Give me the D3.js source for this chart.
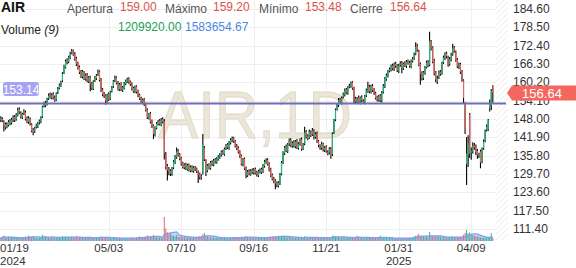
<!DOCTYPE html>
<html>
<head>
<meta charset="utf-8">
<script src="https://cdn.jsdelivr.net/npm/d3@7"></script>
<style>
  html, body { margin: 0; padding: 0; background: #fff; }
  svg { display: block; font-family: Arial, "Liberation Sans", sans-serif; }
</style>
</head>
<body>
<svg id="chart" width="576" height="268"></svg>
<script>
// daily bars, AIR 1D
const opens = [
  147.6, 148.0, 147.2, 146.3, 145.5, 146.0, 147.4, 146.8, 147.6, 148.8,
  147.9, 149.2, 151.3, 150.0, 148.5, 149.9, 150.2, 148.4, 147.0, 148.0,
  146.2, 144.5, 143.8, 145.3, 145.5, 146.8, 147.0, 148.8, 152.4, 153.4,
  152.8, 154.8, 156.2, 155.0, 156.3, 155.2, 154.4, 156.8, 158.3, 159.0,
  160.8, 163.4, 165.2, 167.6, 167.0, 168.4, 170.0, 170.9, 169.8, 168.2,
  166.6, 165.3, 163.8, 162.0, 163.6, 161.2, 162.8, 160.5, 162.0, 159.8,
  158.0, 160.8, 161.5, 162.8, 163.8, 161.2, 157.8, 156.5, 155.8, 153.8,
  156.4, 154.8, 157.2, 158.8, 160.8, 161.8, 160.2, 157.8, 159.8, 157.5,
  158.2, 159.6, 160.4, 161.5, 160.4, 159.8, 158.3, 157.0, 158.8, 157.3,
  156.0, 155.0, 153.4, 154.6, 153.0, 151.2, 148.2, 149.9, 147.4, 145.8,
  142.6, 145.0, 146.3, 147.5, 146.0, 148.0, 147.2, 136.2, 132.4, 131.3,
  130.8, 129.6, 131.8, 133.5, 135.3, 137.5, 136.2, 135.0, 133.4, 131.8,
  133.0, 131.2, 132.8, 130.8, 132.2, 130.6, 132.0, 131.5, 130.4, 129.8,
  128.9, 130.0, 138.5, 134.2, 130.8, 132.8, 131.6, 133.8, 132.8, 134.5,
  133.6, 134.6, 135.3, 136.0, 137.3, 136.3, 138.2, 139.5, 138.3, 140.0,
  140.8, 141.8, 140.6, 139.2, 138.4, 137.2, 135.8, 132.8, 134.8, 131.8,
  129.2, 130.8, 129.6, 131.0, 130.0, 131.4, 130.3, 129.2, 130.4, 131.3,
  130.4, 132.3, 133.6, 134.4, 133.2, 131.3, 129.4, 128.2, 127.5, 126.8,
  125.8, 126.5, 129.8, 133.4, 136.5, 138.8, 137.2, 139.6, 141.0, 139.0,
  140.4, 138.8, 140.8, 138.3, 139.6, 141.2, 138.2, 139.8, 143.8, 142.3,
  141.8, 143.6, 142.8, 144.0, 142.0, 143.2, 140.6, 139.0, 138.3, 139.6,
  137.6, 138.8, 137.0, 136.8, 138.2, 136.2, 143.4, 147.8, 151.3, 152.6,
  154.6, 153.3, 155.4, 156.0, 157.8, 156.6, 158.8, 158.9, 160.2, 158.3,
  154.8, 153.6, 155.2, 153.4, 155.3, 154.0, 153.4, 155.8, 157.2, 158.8,
  157.0, 159.0, 157.8, 156.6, 155.2, 154.3, 155.8, 154.0, 157.0, 158.8,
  161.2, 162.3, 164.0, 164.3, 165.8, 164.5, 166.4, 165.7, 164.0, 166.0,
  166.8, 164.8, 166.6, 165.6, 167.2, 166.8, 165.4, 167.3, 168.2, 169.7,
  172.4, 170.6, 166.3, 163.4, 161.6, 163.2, 165.2, 167.0, 166.0, 173.8,
  171.8, 167.5, 163.5, 160.4, 161.8, 163.8, 163.2, 166.8, 168.2, 169.8,
  168.5, 166.2, 167.8, 169.6, 171.8, 170.3, 167.8, 165.3, 166.2, 163.8,
  160.8, 153.2, 133.0, 136.2, 149.5, 136.8, 137.2, 139.3, 138.8, 137.4,
  135.6, 137.2, 133.8, 138.3, 140.8, 144.3, 144.5, 151.5, 152.5, 159.0
];
const highs = [
  148.9, 148.6, 147.6, 146.8, 146.9, 147.6, 148.0, 148.3, 149.2, 149.3,
  150.0, 151.7, 151.9, 150.6, 150.1, 151.2, 150.8, 148.9, 148.9, 148.5,
  146.6, 145.0, 145.4, 146.4, 147.0, 147.8, 148.9, 152.4, 153.7, 154.0,
  155.1, 156.5, 156.8, 156.6, 156.9, 155.8, 156.9, 158.6, 159.8, 160.7,
  163.6, 166.0, 167.8, 168.2, 169.0, 170.4, 171.3, 171.1, 170.3, 168.7,
  167.0, 165.8, 164.3, 164.3, 164.0, 163.1, 163.3, 162.3, 162.4, 160.3,
  160.9, 162.3, 163.0, 164.5, 164.2, 161.6, 158.3, 157.0, 156.2, 156.4,
  156.9, 157.4, 159.0, 161.0, 162.5, 162.2, 160.6, 160.0, 160.2, 159.0,
  160.3, 161.1, 161.7, 161.9, 160.8, 160.2, 158.7, 159.1, 159.2, 157.7,
  156.4, 155.4, 154.8, 155.0, 153.4, 151.6, 150.0, 150.3, 147.8, 146.2,
  145.6, 147.0, 147.7, 148.0, 148.3, 148.6, 148.0, 137.0, 133.0, 132.0,
  131.3, 132.0, 134.3, 136.0, 138.5, 138.0, 136.7, 135.4, 133.8, 133.3,
  133.4, 133.1, 133.2, 132.5, 132.6, 132.3, 132.4, 131.9, 130.9, 130.2,
  129.6, 143.0, 139.0, 134.6, 133.0, 133.3, 134.0, 134.3, 134.7, 135.0,
  135.3, 136.0, 136.7, 137.5, 137.8, 138.5, 139.7, 140.0, 140.7, 141.6,
  142.2, 142.1, 141.0, 139.7, 138.9, 137.6, 136.2, 135.0, 135.2, 132.2,
  131.0, 131.3, 131.3, 131.5, 131.7, 131.9, 130.8, 131.1, 131.5, 131.8,
  133.0, 134.4, 134.9, 134.9, 133.6, 131.8, 129.9, 128.7, 128.0, 127.3,
  127.3, 130.0, 134.0, 137.3, 139.0, 139.5, 140.0, 141.5, 141.6, 140.6,
  140.9, 141.0, 141.3, 140.3, 141.6, 141.8, 140.0, 145.4, 144.3, 142.9,
  144.5, 144.2, 145.0, 144.6, 143.6, 143.8, 141.0, 139.6, 140.4, 140.1,
  139.0, 139.3, 137.6, 138.6, 138.7, 143.5, 148.0, 151.5, 153.2, 155.0,
  155.1, 155.5, 156.8, 158.1, 158.3, 159.0, 159.7, 160.5, 160.6, 158.7,
  155.4, 155.3, 155.8, 155.5, 155.9, 154.6, 156.0, 158.1, 160.4, 159.4,
  159.4, 159.6, 158.3, 157.1, 155.7, 156.0, 156.3, 157.3, 159.6, 162.0,
  163.1, 164.3, 165.1, 166.1, 166.4, 166.8, 167.0, 166.2, 166.4, 167.2,
  167.3, 166.8, 167.2, 167.6, 167.8, 167.3, 167.8, 168.6, 170.1, 173.5,
  173.0, 171.0, 166.8, 163.9, 164.0, 165.6, 167.4, 167.6, 177.0, 174.3,
  172.2, 168.0, 164.0, 162.4, 164.1, 164.3, 167.0, 169.1, 170.2, 170.4,
  169.0, 168.6, 170.0, 173.0, 172.3, 170.8, 168.3, 166.8, 166.7, 164.3,
  161.2, 153.6, 142.0, 142.6, 150.0, 138.5, 140.3, 140.0, 139.5, 138.0,
  136.8, 137.8, 138.5, 141.2, 144.5, 146.2, 148.0, 154.5, 158.0, 159.2
];
const lows = [
  147.0, 146.9, 143.8, 144.5, 144.9, 145.5, 145.9, 146.2, 147.0, 147.0,
  147.4, 148.8, 149.6, 148.2, 148.0, 149.3, 147.5, 146.6, 146.4, 145.8,
  143.6, 142.6, 143.3, 144.8, 145.0, 146.2, 146.6, 148.3, 151.8, 151.9,
  152.5, 154.3, 154.8, 154.6, 154.5, 153.7, 154.0, 156.3, 157.9, 158.6,
  160.3, 163.0, 164.8, 166.2, 166.5, 167.9, 169.5, 169.0, 167.4, 165.6,
  164.5, 163.0, 161.6, 161.5, 161.0, 160.7, 160.2, 160.0, 157.2, 157.6,
  157.6, 160.3, 161.0, 162.3, 160.5, 157.0, 155.6, 155.0, 152.7, 153.2,
  154.0, 154.3, 156.8, 158.3, 160.3, 159.5, 157.5, 157.3, 157.3, 157.0,
  157.8, 159.2, 160.0, 159.7, 159.0, 157.5, 156.7, 156.6, 156.5, 155.2,
  154.3, 153.1, 152.9, 152.3, 150.5, 148.0, 147.8, 146.5, 145.0, 141.3,
  142.2, 144.6, 145.8, 145.8, 145.6, 146.5, 134.5, 131.2, 127.5, 129.3,
  129.0, 129.1, 131.3, 133.0, 134.8, 135.5, 134.3, 132.5, 131.5, 131.3,
  131.0, 130.8, 130.5, 130.3, 130.3, 130.1, 130.7, 130.0, 126.7, 127.9,
  127.8, 129.5, 134.0, 129.0, 130.3, 131.2, 131.1, 132.4, 132.3, 133.2,
  133.1, 134.1, 134.8, 135.5, 136.0, 135.8, 137.7, 138.0, 137.8, 139.5,
  140.3, 140.0, 138.5, 137.7, 136.5, 135.0, 132.5, 132.3, 131.0, 128.3,
  128.7, 129.3, 129.1, 129.7, 129.5, 129.5, 128.9, 128.7, 129.9, 129.7,
  130.0, 131.8, 133.1, 132.5, 130.5, 128.7, 127.5, 126.6, 124.6, 125.3,
  125.2, 126.0, 129.3, 133.0, 136.0, 137.0, 136.7, 139.0, 138.7, 138.4,
  138.5, 138.3, 138.0, 137.8, 139.1, 137.4, 137.7, 139.3, 141.5, 140.9,
  141.3, 142.0, 142.3, 141.2, 141.5, 140.0, 138.6, 137.8, 137.8, 137.2,
  137.0, 136.8, 135.9, 136.2, 134.8, 135.7, 143.0, 147.3, 150.8, 152.0,
  153.0, 152.8, 154.8, 155.5, 156.2, 156.1, 158.2, 158.4, 157.7, 153.3,
  153.2, 153.0, 153.0, 152.8, 153.6, 153.0, 152.9, 155.3, 156.7, 156.6,
  156.5, 157.0, 156.0, 154.5, 153.8, 153.8, 153.6, 153.5, 156.5, 158.3,
  160.7, 161.8, 163.5, 163.8, 164.2, 164.0, 165.0, 163.6, 163.3, 165.4,
  163.2, 164.3, 165.3, 165.0, 166.0, 165.1, 164.9, 166.8, 167.7, 169.2,
  170.4, 165.5, 159.4, 160.8, 161.0, 162.7, 164.8, 165.2, 165.5, 170.8,
  166.5, 162.5, 160.2, 159.6, 161.3, 162.4, 162.7, 166.3, 167.6, 168.2,
  165.4, 165.7, 167.2, 169.0, 170.0, 167.0, 165.0, 164.6, 163.0, 160.4,
  153.2, 143.0, 126.0, 132.0, 135.0, 134.4, 136.5, 137.8, 136.0, 134.8,
  135.0, 131.6, 133.3, 137.8, 140.3, 143.8, 144.0, 150.5, 151.0, 153.48
];
const closes = [
  148.2, 147.5, 146.0, 145.2, 146.3, 147.0, 146.5, 147.8, 148.5, 147.6,
  149.5, 151.0, 150.2, 148.8, 149.6, 150.5, 148.0, 147.2, 148.3, 146.5,
  144.0, 143.5, 145.0, 145.8, 146.5, 147.3, 148.5, 152.0, 153.0, 152.5,
  154.5, 155.8, 155.2, 156.0, 155.0, 154.2, 156.5, 158.0, 159.2, 160.0,
  163.0, 165.5, 167.2, 166.8, 168.5, 169.8, 170.6, 169.5, 168.0, 166.2,
  165.0, 163.5, 162.2, 163.8, 161.5, 162.6, 160.8, 161.8, 159.5, 158.2,
  160.5, 161.8, 162.5, 163.5, 161.0, 157.5, 156.2, 155.5, 154.0, 156.0,
  154.5, 157.0, 158.5, 160.5, 161.5, 160.0, 158.0, 159.5, 157.8, 158.5,
  159.8, 160.6, 161.2, 160.2, 159.5, 158.0, 157.2, 158.6, 157.0, 155.8,
  154.8, 153.6, 154.3, 152.8, 151.0, 148.5, 149.6, 147.0, 145.5, 143.0,
  145.2, 146.5, 147.2, 146.3, 147.8, 147.0, 136.5, 132.0, 131.0, 130.5,
  129.8, 131.5, 133.8, 135.5, 137.2, 136.0, 134.8, 133.0, 132.0, 132.8,
  131.5, 132.6, 131.0, 132.0, 130.8, 131.8, 131.2, 130.5, 129.5, 128.6,
  128.5, 139.5, 134.5, 130.5, 132.5, 131.8, 133.5, 133.0, 134.2, 133.8,
  134.8, 135.5, 136.2, 137.0, 136.5, 138.0, 139.2, 138.5, 140.2, 141.0,
  141.5, 140.5, 139.0, 138.2, 137.0, 135.5, 133.0, 134.5, 131.5, 129.5,
  130.5, 129.8, 130.8, 130.2, 131.2, 130.0, 129.5, 130.6, 131.0, 130.2,
  132.5, 133.8, 134.2, 133.0, 131.0, 129.2, 128.0, 127.2, 126.5, 126.0,
  126.8, 129.5, 133.5, 136.8, 138.5, 137.5, 139.5, 140.8, 139.2, 140.0,
  139.0, 140.5, 138.5, 139.8, 141.0, 138.0, 139.5, 143.5, 142.0, 141.5,
  143.8, 142.5, 144.2, 141.8, 143.0, 140.5, 139.2, 138.5, 139.8, 137.8,
  138.5, 137.2, 136.5, 138.0, 135.8, 143.0, 147.5, 151.0, 152.5, 154.2,
  153.5, 155.0, 156.2, 157.5, 156.8, 158.5, 159.0, 160.0, 158.2, 155.0,
  153.8, 154.8, 153.5, 155.0, 154.2, 153.6, 155.5, 157.5, 158.5, 157.2,
  158.8, 157.5, 156.5, 155.0, 154.5, 155.5, 154.2, 156.8, 159.0, 161.5,
  162.5, 163.8, 164.5, 165.5, 164.8, 166.2, 165.5, 164.2, 165.8, 166.5,
  165.0, 166.3, 165.8, 167.0, 166.5, 165.6, 167.2, 168.0, 169.5, 172.0,
  171.0, 166.0, 163.0, 161.5, 163.5, 165.0, 166.8, 165.8, 174.0, 171.5,
  167.0, 163.0, 161.0, 161.5, 163.5, 163.0, 166.5, 168.5, 169.5, 168.8,
  166.0, 168.0, 169.5, 171.5, 170.5, 167.5, 165.5, 166.0, 163.5, 162.0,
  155.0, 144.5, 136.5, 140.0, 136.5, 137.5, 139.0, 138.5, 137.0, 136.0,
  136.0, 133.5, 138.0, 140.5, 144.0, 145.5, 147.5, 153.0, 157.5, 156.64
];
// volume in millions
const volumes = [
  1.4, 1.6, 2.2, 1.5, 1.3, 1.8, 1.2, 1.5, 1.4, 1.3,
  1.6, 1.2, 1.5, 1.3, 1.4, 1.2, 1.9, 1.6, 2.3, 1.7,
  1.8, 2.1, 1.4, 1.3, 1.2, 1.5, 1.4, 2.6, 1.9, 2.0,
  1.5, 1.4, 1.2, 1.6, 1.3, 1.2, 1.5, 1.8, 1.6, 1.5,
  2.0, 1.7, 1.5, 1.3, 1.6, 1.4, 1.9, 1.5, 1.3, 2.2,
  1.5, 1.4, 1.3, 1.2, 1.5, 1.4, 1.3, 1.6, 1.8, 1.4,
  1.3, 1.2, 1.5, 1.4, 1.6, 1.9, 1.5, 1.3, 1.7, 1.4,
  1.2, 1.3, 1.1, 1.2, 1.4, 1.3, 1.2, 1.1, 1.3, 1.2,
  1.1, 1.2, 1.3, 1.1, 1.2, 1.4, 1.3, 1.2, 1.5, 1.6,
  1.9, 1.5, 1.3, 1.6, 1.8, 2.4, 1.6, 1.9, 2.1, 2.6,
  1.8, 1.5, 1.4, 1.6, 1.3, 1.5, 10.0, 5.2, 3.6, 2.8,
  3.2, 2.4, 2.2, 2.0, 2.5, 1.8, 1.7, 1.9, 1.6, 1.8,
  1.5, 1.4, 1.6, 1.3, 1.5, 1.4, 1.7, 1.6, 1.8, 2.0,
  1.9, 2.8, 3.3, 2.2, 1.8, 1.6, 1.5, 1.4, 1.6, 1.3,
  1.4, 1.2, 1.3, 1.5, 1.2, 1.3, 1.4, 1.2, 1.5, 1.3,
  1.4, 1.3, 1.5, 1.2, 1.4, 1.6, 1.8, 1.5, 1.7, 2.0,
  1.6, 1.4, 1.5, 1.3, 1.4, 1.2, 1.6, 1.5, 1.3, 1.4,
  1.5, 1.7, 1.4, 1.3, 1.6, 1.8, 1.9, 1.7, 2.1, 1.8,
  2.2, 2.0, 1.9, 2.3, 1.7, 1.6, 1.5, 1.8, 1.6, 1.4,
  1.5, 1.3, 1.6, 1.4, 1.2, 1.5, 1.3, 2.0, 1.6, 1.4,
  1.5, 1.3, 1.4, 1.6, 1.3, 1.5, 1.4, 1.3, 1.2, 1.4,
  1.3, 1.5, 1.4, 1.2, 1.6, 2.3, 2.1, 2.0, 1.8, 1.6,
  1.5, 1.4, 1.6, 1.3, 1.5, 1.4, 1.3, 1.7, 1.5, 1.6,
  1.4, 2.2, 1.5, 1.3, 1.4, 1.2, 1.5, 1.3, 1.4, 1.6,
  1.3, 1.4, 1.5, 1.6, 1.4, 1.3, 2.1, 1.5, 1.4, 1.3,
  1.2, 1.1, 1.3, 1.2, 1.1, 1.0, 1.2, 1.1, 1.3, 1.2,
  1.1, 1.2, 1.0, 1.3, 1.2, 1.4, 1.3, 1.5, 1.9, 2.2,
  2.4, 3.0, 2.0, 2.1, 1.8, 1.6, 1.7, 1.5, 3.8, 2.3,
  2.2, 2.0, 1.9, 1.8, 1.6, 1.7, 1.5, 1.6, 1.4, 1.5,
  1.8, 1.5, 1.6, 1.9, 1.4, 1.5, 1.6, 1.3, 1.7, 1.9,
  2.6, 3.4, 4.6, 3.2, 3.6, 2.7, 2.4, 2.2, 2.0, 1.9,
  1.8, 1.5, 1.4, 1.3, 1.4, 1.2, 1.5, 1.6, 3.3, 1.21
];

const priceTicks = [111.4, 117.5, 123.6, 129.7, 135.8, 141.9, 148.0, 154.1, 160.2, 166.3, 172.4, 178.5, 184.6];
const dateTickIdx = [70, 117, 164, 211, 258, 305];
const dateTickLabels = ["05/03", "07/10", "09/16", "11/21", "01/31", "04/09"];
const yearLabels = [{ idx: 0, text: "2024" }, { idx: 258, text: "2025" }];
const firstDateLabel = "01/19";

const symbol = "AIR";
const refLevel = 153.14;
const volLastText = "1209920.00";
const volMaText = "1583654.67";

const PLOT_BOTTOM = 241, PLOT_RIGHT = 508, HATCH_X = 496, BARS_RIGHT = 493.6;
const UP = "#1dbf7a", DOWN = "#f0625b";

const svg = d3.select("#chart");
const N = closes.length;
const bars = closes.map((c, i) => ({ i, o: opens[i], h: highs[i], l: lows[i], c, v: volumes[i] }));

const x = d3.scaleBand().domain(d3.range(N)).range([0, BARS_RIGHT]).padding(0);
const xc = (i) => x(i) + x.bandwidth() / 2;
const y = d3.scaleLinear().domain([107.41, 187.58]).range([PLOT_BOTTOM, 0]);
const yv = d3.scaleLinear().domain([0, 20]).range([PLOT_BOTTOM, PLOT_BOTTOM - 48]);

// hatched future area
const defs = svg.append("defs");
const pat = defs.append("pattern")
  .attr("id", "hatch").attr("width", 4).attr("height", 4)
  .attr("patternUnits", "userSpaceOnUse").attr("patternTransform", "rotate(45)");
pat.append("line").attr("x1", 0).attr("y1", 0).attr("x2", 0).attr("y2", 4)
  .attr("stroke", "#e4e4e4").attr("stroke-width", 1.2);
svg.append("rect").attr("x", HATCH_X).attr("y", 0)
  .attr("width", PLOT_RIGHT - HATCH_X).attr("height", PLOT_BOTTOM)
  .attr("fill", "url(#hatch)");

// grid
svg.append("g").selectAll("line").data(priceTicks).join("line")
  .attr("x1", 0).attr("x2", HATCH_X)
  .attr("y1", (d) => Math.round(y(d)) + 0.5).attr("y2", (d) => Math.round(y(d)) + 0.5)
  .attr("stroke", "#efefef");
svg.append("g").selectAll("line").data(dateTickIdx).join("line")
  .attr("x1", (d) => Math.round(xc(d)) + 0.5).attr("x2", (d) => Math.round(xc(d)) + 0.5)
  .attr("y1", 0).attr("y2", PLOT_BOTTOM)
  .attr("stroke", "#efefef");

// watermark
svg.append("text")
  .attr("x", 158).attr("y", 138)
  .attr("textLength", 194).attr("lengthAdjust", "spacingAndGlyphs")
  .style("font-size", "66px")
  .attr("fill", "#ebe6d9").attr("stroke", "#ddd6c2").attr("stroke-width", 0.8)
  .text(`${symbol},1D`);

// volume bars
svg.append("g").selectAll("rect").data(bars).join("rect")
  .attr("x", (d) => xc(d.i) - 0.5)
  .attr("width", 1)
  .attr("y", (d) => yv(d.v))
  .attr("height", (d) => PLOT_BOTTOM - yv(d.v))
  .attr("fill", (d) => (d.c >= d.o ? UP : DOWN));

// volume MA(9)
const maPts = bars.map((d, i) => ({ i, m: d3.mean(volumes.slice(Math.max(0, i - 8), i + 1)) }));
svg.append("path").datum(maPts)
  .attr("d", d3.area().x((d) => xc(d.i)).y0(PLOT_BOTTOM).y1((d) => yv(d.m)).curve(d3.curveMonotoneX))
  .attr("fill", "rgba(110,150,235,0.4)");
svg.append("path").datum(maPts)
  .attr("d", d3.line().x((d) => xc(d.i)).y((d) => yv(d.m)).curve(d3.curveMonotoneX))
  .attr("fill", "none").attr("stroke", "#7aa2ee").attr("stroke-width", 1.3);

// candles
const cg = svg.append("g");
cg.selectAll("line").data(bars).join("line")
  .attr("x1", (d) => xc(d.i)).attr("x2", (d) => xc(d.i))
  .attr("y1", (d) => y(d.h)).attr("y2", (d) => y(d.l))
  .attr("stroke", "#000").attr("stroke-width", 1.1);
cg.selectAll("rect").data(bars).join("rect")
  .attr("x", (d) => xc(d.i) - 0.55)
  .attr("width", 1.1)
  .attr("y", (d) => y(Math.max(d.o, d.c)))
  .attr("height", (d) => Math.max(1, Math.abs(y(d.o) - y(d.c))))
  .attr("fill", (d) => (d.c >= d.o ? UP : DOWN));

// reference level line
svg.append("line")
  .attr("x1", 0).attr("x2", 506)
  .attr("y1", y(refLevel)).attr("y2", y(refLevel))
  .attr("stroke", "#6e6db6").attr("stroke-width", 2);
svg.append("rect")
  .attr("x", 3).attr("y", 82).attr("width", 36).attr("height", 14).attr("rx", 3)
  .attr("fill", "#a5a3f3");
svg.append("text")
  .attr("x", 21).attr("y", 93.5).attr("text-anchor", "middle")
  .style("font-size", "12px").attr("fill", "#fff")
  .text(refLevel.toFixed(2));

// right axis
svg.append("g").selectAll("text").data(priceTicks).join("text")
  .attr("x", 513).attr("y", (d) => y(d) + 4)
  .style("font-size", "12px").attr("fill", "#333")
  .text((d) => d.toFixed(2));

// last price tag
const last = bars[N - 1];
const ly = y(last.c);
svg.append("path")
  .attr("d", `M507,${ly} L512,${ly - 7.5} L576,${ly - 7.5} L576,${ly + 7.5} L512,${ly + 7.5} Z`)
  .attr("fill", "#f4675f");
svg.append("text")
  .attr("x", 542).attr("y", ly + 4.5).attr("text-anchor", "middle")
  .style("font-size", "13px").attr("fill", "#fff")
  .text(last.c.toFixed(2));

// date axis
svg.append("text").attr("x", 0).attr("y", 252)
  .style("font-size", "11.5px").attr("fill", "#333").text(firstDateLabel);
svg.append("g").selectAll("text").data(dateTickIdx).join("text")
  .attr("x", (d) => xc(d)).attr("y", 252).attr("text-anchor", "middle")
  .style("font-size", "11.5px").attr("fill", "#333")
  .text((d, k) => dateTickLabels[k]);
svg.append("g").selectAll("text").data(yearLabels).join("text")
  .attr("x", (d) => d.idx === 0 ? 0 : xc(d.idx))
  .attr("text-anchor", (d) => d.idx === 0 ? "start" : "middle")
  .attr("y", 265)
  .style("font-size", "11.5px").attr("fill", "#333")
  .text((d) => d.text);

// header
svg.append("text").attr("x", 1).attr("y", 12)
  .style("font-size", "14px").style("font-weight", "bold").attr("fill", "#111").text(symbol);
const hdr = [
  { lab: "Apertura", x: 67, vx: 120, v: last.o },
  { lab: "Máximo", x: 165, vx: 213, v: last.h },
  { lab: "Mínimo", x: 259, vx: 305, v: last.l },
  { lab: "Cierre", x: 350, vx: 390, v: last.c },
];
hdr.forEach((h) => {
  svg.append("text").attr("x", h.x).attr("y", 12.5)
    .style("font-size", "12px").attr("fill", "#555").text(h.lab);
  svg.append("text").attr("x", h.vx).attr("y", 11)
    .style("font-size", "12px").attr("fill", "#e0524b").text(h.v.toFixed(2));
});
const vt = svg.append("text").attr("x", 1).attr("y", 34)
  .style("font-size", "12px").attr("fill", "#222");
vt.append("tspan").text("Volume ");
vt.append("tspan").style("font-style", "italic").text("(9)");
svg.append("text").attr("x", 118).attr("y", 30.5)
  .style("font-size", "12px").attr("fill", "#1e9e5a").text(volLastText);
svg.append("text").attr("x", 185).attr("y", 30.5)
  .style("font-size", "12px").attr("fill", "#4c86e6").text(volMaText);
</script>
</body>
</html>
